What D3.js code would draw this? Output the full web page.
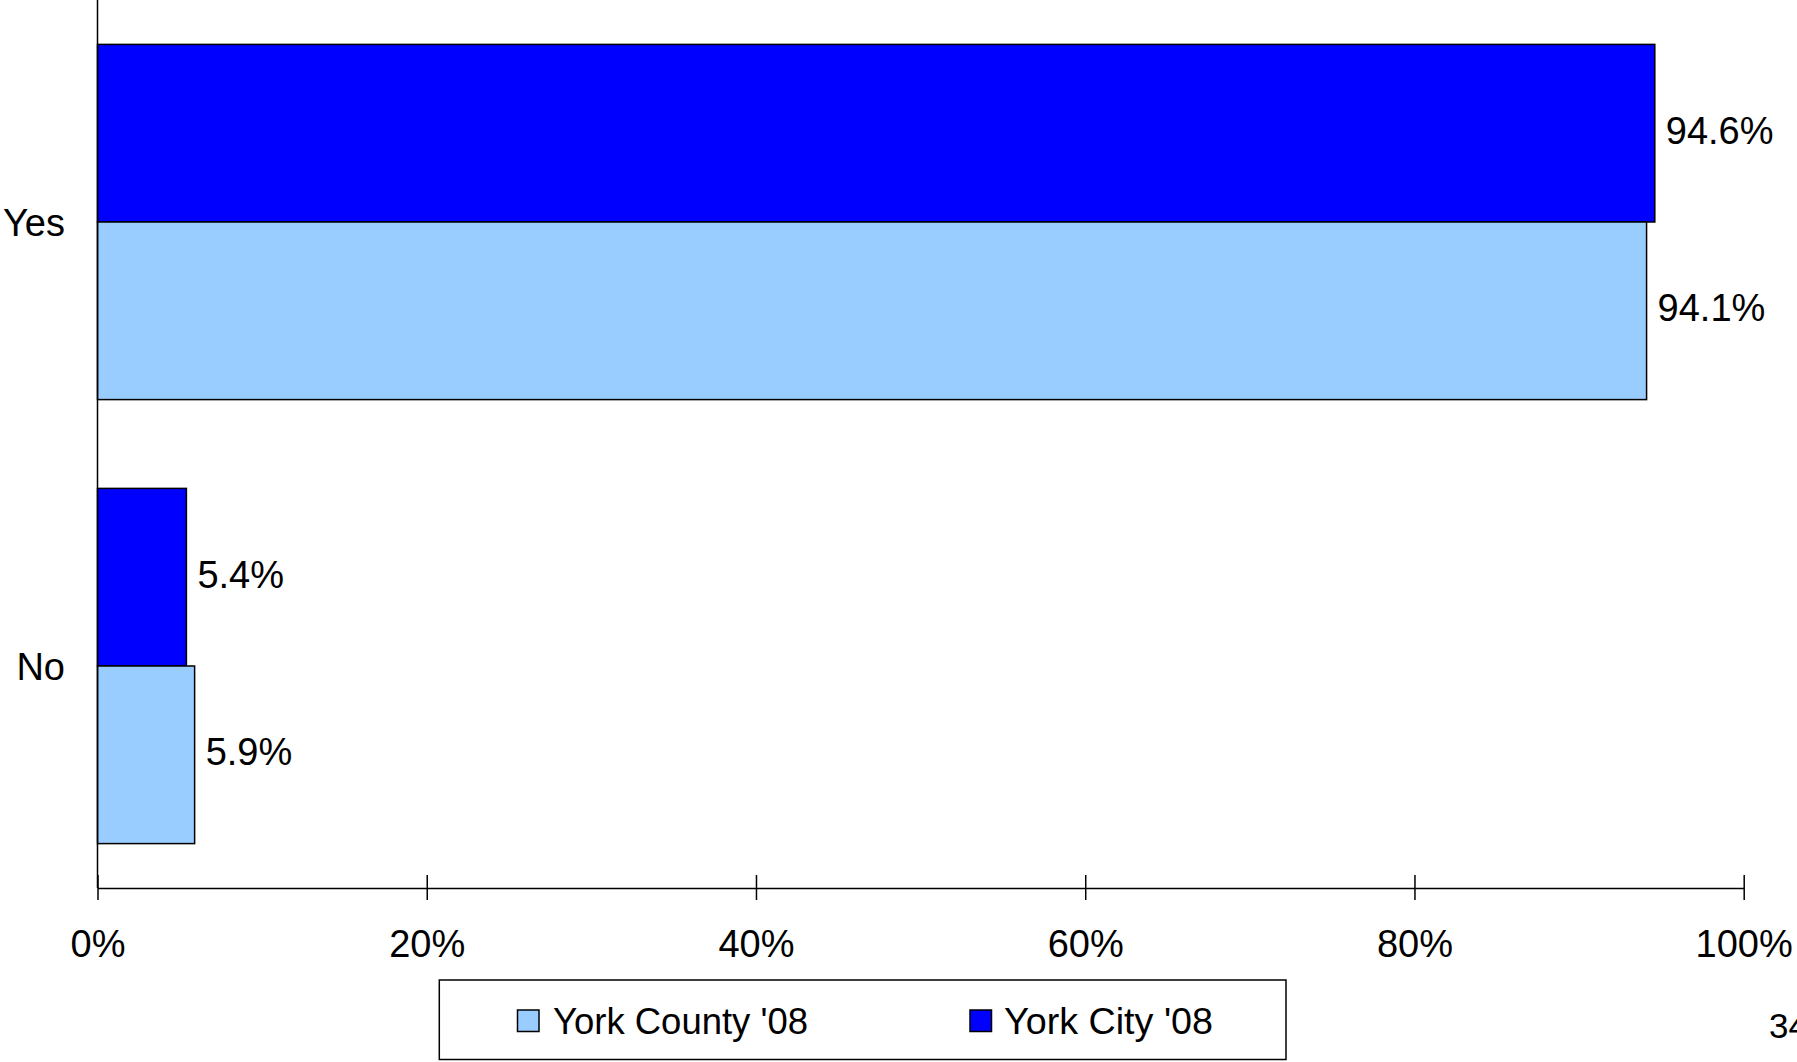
<!DOCTYPE html>
<html>
<head>
<meta charset="utf-8">
<script src="https://cdn.jsdelivr.net/npm/d3@7"></script>
<style>
  html, body { margin: 0; padding: 0; background: #fff; }
  svg { display: block; font-family: "Liberation Sans", Arial, sans-serif; }
</style>
</head>
<body>
<svg id="chart" width="1797" height="1062"></svg>
<script>
const categories = ["Yes", "No"];
const seriesNames = ["York County '08", "York City '08"];
const countyValues = [94.1, 5.9];
const cityValues = [94.6, 5.4];
const tickValues = [0, 20, 40, 60, 80, 100];
const tickLabels = ["0%", "20%", "40%", "60%", "80%", "100%"];
const pageNumber = "34";

const colors = { county: "#99ccff", city: "#0000ff" };

const svg = d3.select("#chart");
const plot = { left: 97.5, right: 1743.7, top: 0, bottom: 888 };

const x = d3.scaleLinear().domain([0, 100]).range([plot.left, plot.right]);
const y = d3.scaleBand().domain(categories).range([plot.top, plot.bottom])
  .paddingInner(0.2).paddingOuter(0.1);
const inner = d3.scaleBand().domain(["city", "county"]).range([0, y.bandwidth()]);

const rows = categories.map((c, i) => ({ cat: c, county: countyValues[i], city: cityValues[i] }));

// bars
const groups = svg.append("g").selectAll("g").data(rows).join("g")
  .attr("transform", d => `translate(0,${y(d.cat)})`);

["city", "county"].forEach(key => {
  groups.append("rect")
    .attr("x", x(0))
    .attr("y", inner(key))
    .attr("width", d => x(d[key]) - x(0))
    .attr("height", inner.bandwidth())
    .attr("fill", colors[key])
    .attr("stroke", "#000")
    .attr("stroke-width", 1.5);
  groups.append("text")
    .attr("x", d => x(d[key]) + 11)
    .attr("y", inner(key) + inner.bandwidth() / 2)
    .attr("dy", "0.28em")
    .attr("font-size", 38)
    .attr("fill", "#000")
    .text(d => d[key].toFixed(1) + "%");
});

// y axis line
svg.append("line")
  .attr("x1", plot.left).attr("x2", plot.left)
  .attr("y1", plot.top).attr("y2", plot.bottom)
  .attr("stroke", "#000").attr("stroke-width", 1.5);

// category labels
svg.append("g").selectAll("text").data(categories).join("text")
  .attr("x", 65)
  .attr("y", d => y(d) + y.bandwidth() / 2)
  .attr("dy", "0.36em")
  .attr("text-anchor", "end")
  .attr("font-size", 38)
  .text(d => d);

// x axis
const xAxis = d3.axisBottom(x)
  .tickValues(tickValues)
  .tickFormat((d, i) => tickLabels[i])
  .tickSizeInner(12)
  .tickSizeOuter(0)
  .tickPadding(44);
const gx = svg.append("g").attr("transform", `translate(0,${plot.bottom})`).call(xAxis);
gx.select(".domain").attr("stroke", "#000").attr("stroke-width", 1.5);
gx.selectAll(".tick line")
  .attr("y1", -13).attr("y2", 12)
  .attr("stroke", "#000").attr("stroke-width", 1.5);
gx.selectAll(".tick text")
  .attr("font-size", 38)
  .attr("font-family", "'Liberation Sans', Arial, sans-serif")
  .attr("fill", "#000")
  .attr("dy", null)
  .attr("y", 69);

// legend
const legend = svg.append("g");
legend.append("rect")
  .attr("x", 439.3).attr("y", 980)
  .attr("width", 1286 - 439.3).attr("height", 79.5)
  .attr("fill", "#fff").attr("stroke", "#000").attr("stroke-width", 1.5);
const legendItems = [
  { name: seriesNames[0], color: colors.county, sx: 517.5, tx: 553 },
  { name: seriesNames[1], color: colors.city, sx: 970, tx: 1004 }
];
const li = legend.selectAll("g.item").data(legendItems).join("g").attr("class", "item");
li.append("rect")
  .attr("x", d => d.sx).attr("y", 1010)
  .attr("width", 21.5).attr("height", 21.5)
  .attr("fill", d => d.color).attr("stroke", "#000").attr("stroke-width", 1.5);
li.append("text")
  .attr("x", d => d.tx).attr("y", 1034)
  .attr("font-size", 37)
  .attr("textLength", (d, i) => i === 0 ? 255 : 209)
  .attr("lengthAdjust", "spacingAndGlyphs")
  .text(d => d.name);

// page number (cut off at the right edge, as in the reference)
svg.append("text")
  .attr("x", 1769).attr("y", 1038)
  .attr("font-size", 35)
  .text(pageNumber);
</script>
</body>
</html>
